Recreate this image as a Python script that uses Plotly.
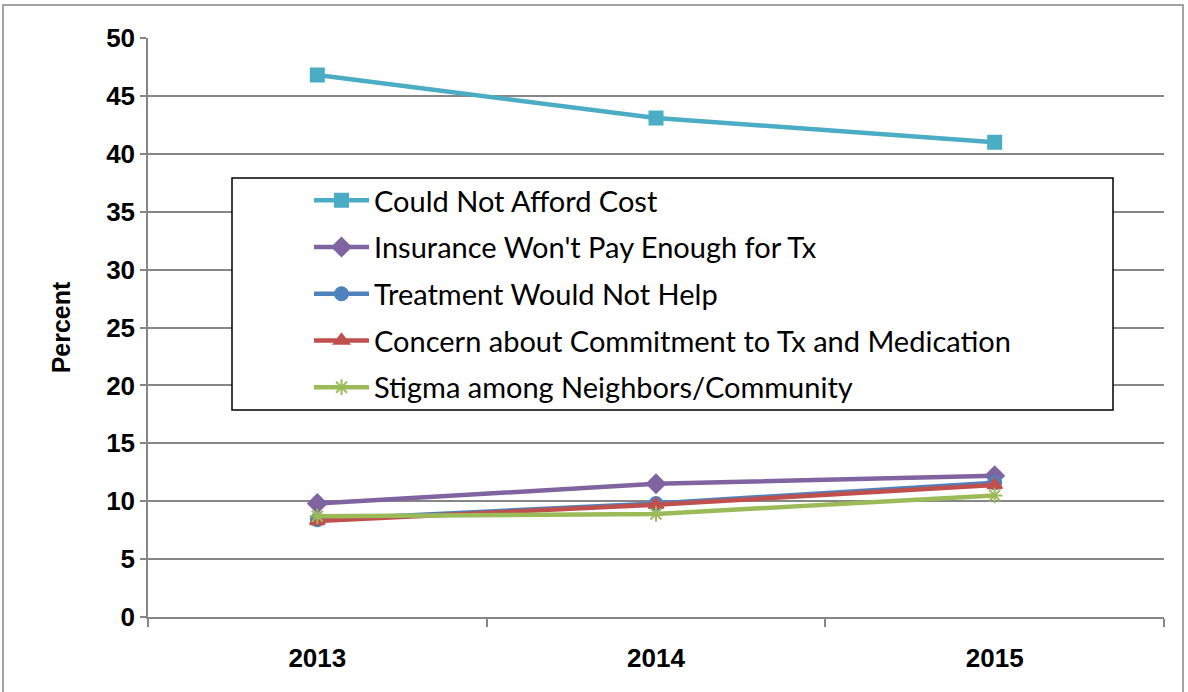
import plotly.graph_objects as go

# Survey years and percentages for each barrier to treatment
years = ["2013", "2014", "2015"]
could_not_afford = [46.8, 43.1, 41.0]
insurance_wont_pay = [9.8, 11.5, 12.2]
treatment_not_help = [8.4, 9.8, 11.6]
commitment_concern = [8.3, 9.7, 11.4]
stigma_neighbors = [8.7, 8.9, 10.5]

series = [
    ("Could Not Afford Cost", could_not_afford, "#4BACC6", "square", 13),
    ("Insurance Won't Pay Enough for Tx", insurance_wont_pay, "#8064A2", "diamond", 14),
    ("Treatment Would Not Help", treatment_not_help, "#4F81BD", "circle", 13),
    ("Concern about Commitment to Tx and Medication", commitment_concern, "#C0504D", "triangle-up", 13),
    ("Stigma among Neighbors/Community", stigma_neighbors, "#9BBB59", "asterisk-open", 13),
]

fig = go.Figure()
for i, (name, vals, color, symbol, size) in enumerate(series):
    fig.add_trace(go.Scatter(
        x=years, y=vals, name=name, mode="lines+markers",
        legendgroup=f"g{i}",
        line=dict(color=color, width=4.5),
        marker=dict(symbol=symbol, size=size, color=color,
                    line=dict(color=color, width=2)),
    ))

W, H = 1188, 692
L, R, T, B = 148, 24, 38, 75
pw, ph = W - L - R, H - T - B

def px_x(x):
    return (x - L) / pw

def px_y(y):
    return (H - B - y) / ph

tick_font = dict(family="Liberation Sans, Arial", size=26, color="black", weight="bold")

fig.update_layout(
    width=W, height=H,
    margin=dict(l=L, r=R, t=T, b=B),
    paper_bgcolor="white", plot_bgcolor="white",
    showlegend=True,
    legend=dict(
        x=px_x(309), y=px_y(175), xanchor="left", yanchor="top",
        bgcolor="rgba(0,0,0,0)", borderwidth=0,
        font=dict(family="Lato, Noto Sans, sans-serif", size=29, color="black"),
        tracegroupgap=6, itemwidth=55,
    ),
    xaxis=dict(
        type="category", tickson="boundaries", ticks="outside", ticklen=8,
        tickcolor="#868686", tickwidth=1.5,
        showline=True, linecolor="#868686", linewidth=1.5,
        showgrid=False, tickfont=tick_font, ticklabelstandoff=17,
        range=[-0.5, 2.5],
    ),
    yaxis=dict(
        range=[0, 50], dtick=5, ticks="outside", ticklen=6,
        tickcolor="#868686", tickwidth=1.5,
        showline=True, linecolor="#868686", linewidth=1.5,
        showgrid=True, gridcolor="#868686", gridwidth=1.5,
        zeroline=False, tickfont=tick_font,
        title=dict(text="Percent", standoff=28,
                   font=dict(family="Liberation Sans, Arial", size=25, color="black", weight="bold")),
    ),
    shapes=[
        # legend frame
        dict(type="rect", xref="paper", yref="paper",
             x0=px_x(232), x1=px_x(1113), y0=px_y(410), y1=px_y(178),
             line=dict(color="black", width=1.5), fillcolor="white", layer="above"),
        # chart area outline
        dict(type="rect", xref="paper", yref="paper",
             x0=px_x(3), x1=px_x(1183), y0=px_y(700), y1=px_y(5),
             line=dict(color="#868686", width=1.5), fillcolor="rgba(0,0,0,0)", layer="below"),
    ],
)

fig.write_html("out.html")
